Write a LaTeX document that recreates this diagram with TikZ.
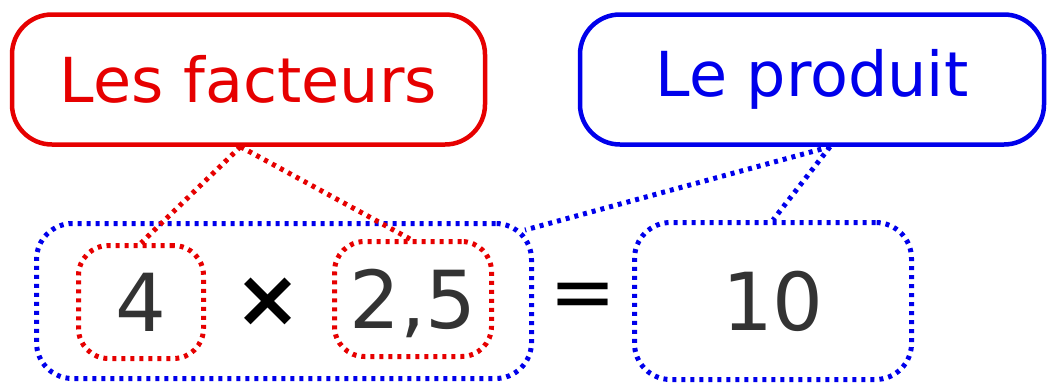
\documentclass[tikz,border=0pt]{standalone}
\usepackage{fontspec}
\setmainfont{DejaVu Sans}
\definecolor{tred}{RGB}{230,0,0}
\definecolor{tblue}{RGB}{0,0,235}
\definecolor{numgray}{RGB}{51,51,51}
\tikzset{
  title/.style={draw, line width=4.5pt, rounded corners=40pt, inner sep=0pt,
    font=\fontsize{62}{74}\selectfont},
  dotbox/.style={draw, line width=5pt, dash pattern=on 4pt off 5pt,
    inner sep=0pt, text height=58pt, text depth=0pt,
    font=\fontsize{80}{96}\selectfont},
  sym/.style={inner sep=0pt, font=\fontsize{80}{96}\selectfont},
  link/.style={line width=5pt, dash pattern=on 4pt off 5pt}
}
\begin{document}
\begin{tikzpicture}[x=1pt,y=-1pt]
\useasboundingbox (0,0) rectangle (1048,383);

% outer group around the product of factors
\node[dotbox, tblue, rounded corners=36pt, minimum width=495pt, minimum height=155pt] (grp) at (284,301) {};

% labels
\node[title, tred, minimum width=473pt, minimum height=130pt] (fac) at (248.5,79.5) {Les facteurs};
\node[title, tblue, minimum width=464pt, minimum height=130pt] (prod) at (812,79.5) {Le produit};

% the factors and the result
\node[dotbox, tred, text=numgray, rounded corners=30pt, minimum width=125pt, minimum height=113pt] (n4) at (141,302) {4};
\node[dotbox, tred, text=numgray, rounded corners=30pt, minimum width=157pt, minimum height=115pt] (n25) at (413,299) {2,5};
\node[dotbox, tblue, text=numgray, rounded corners=36pt, minimum width=277pt, minimum height=157pt] (n10) at (773,301) {10};

% operators
\node[sym, font=\fontsize{80}{96}\selectfont\bfseries] (times) at (268,302) {×};
\node[sym] (eq) at (583,301) {=};

% connectors
\draw[link, tred] ([xshift=-8pt]fac.south) -- (n4.north);
\draw[link, tred] ([xshift=-8pt]fac.south) -- ([xshift=-3pt]n25.north);
\draw[link, tblue] ([xshift=18pt]prod.south) -- ([xshift=-9pt,yshift=-9pt]grp.north east);
\draw[link, tblue] ([xshift=18pt]prod.south) -- (n10.north);
\end{tikzpicture}
\end{document}
